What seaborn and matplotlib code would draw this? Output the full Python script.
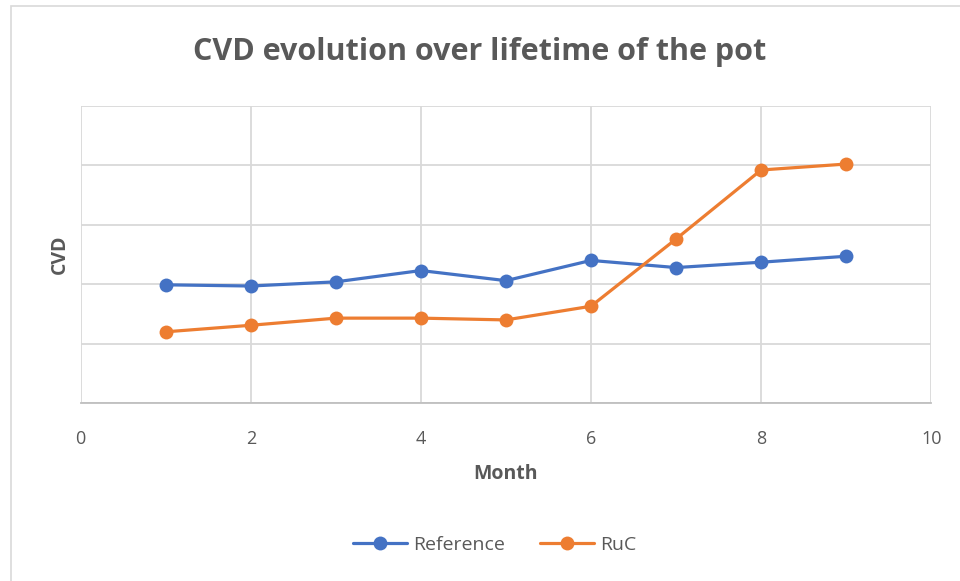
import pandas as pd
import matplotlib.pyplot as plt
import seaborn as sns

# values (y axis has no labels, arbitrary units 0-5)
months = [1, 2, 3, 4, 5, 6, 7, 8, 9]
reference = [1.99, 1.97, 2.04, 2.23, 2.06, 2.40, 2.28, 2.37, 2.47]
ruc = [1.20, 1.31, 1.43, 1.43, 1.40, 1.63, 2.76, 3.92, 4.02]
series_names = ['Reference', 'RuC']
x_ticks = [0, 2, 4, 6, 8, 10]

df = pd.DataFrame({
    'Month': months * 2,
    'CVD': reference + ruc,
    'series': [series_names[0]] * len(months) + [series_names[1]] * len(months),
})

sns.set_theme(style='whitegrid')
plt.rcParams['font.family'] = ['Open Sans', 'DejaVu Sans']

fig = plt.figure(figsize=(9.6, 5.81), dpi=100)
ax = fig.add_axes([0.084, 0.306, 0.886, 0.512])

sns.lineplot(data=df, x='Month', y='CVD', hue='series', hue_order=series_names,
             palette=['#4472C4', '#ED7D31'], marker='o', markersize=10,
             markeredgewidth=0, linewidth=2.3, ax=ax, legend=True)

ax.set_xlim(0, 10)
ax.set_ylim(0, 5)
ax.set_xticks(x_ticks)
ax.set_yticks([0, 1, 2, 3, 4, 5])
ax.set_yticklabels([])
ax.tick_params(axis='x', colors='#595959', labelsize=13, length=0, pad=19)
ax.tick_params(axis='y', length=0)
ax.grid(True, color='#d9d9d9', linewidth=1.3)
for side in ['top', 'right', 'left']:
    ax.spines[side].set_visible(False)
ax.spines['bottom'].set_color('#bfbfbf')
ax.spines['bottom'].set_linewidth(1.3)

ax.set_xlabel('Month', fontsize=14, fontweight='bold', color='#595959', labelpad=12)
ax.set_ylabel('CVD', fontsize=14, fontweight='bold', color='#595959', labelpad=4)

fig.text(0.5, 0.91, 'CVD evolution over lifetime of the pot', fontsize=22,
         fontweight='bold', color='#595959', ha='center', va='center')

handles, labels = ax.get_legend_handles_labels()
ax.legend(handles, labels, loc='center', bbox_to_anchor=(0.515, 0.062),
          bbox_transform=fig.transFigure, ncol=2, frameon=False, fontsize=14,
          labelcolor='#595959', handlelength=2.8, handletextpad=0.3,
          columnspacing=1.8)

fig.patches.append(plt.Rectangle((0.011, -0.01), 1.0, 1.0, transform=fig.transFigure,
                                 fill=False, edgecolor='#d9d9d9', linewidth=1.2))

fig.savefig('out.png', dpi=100)
